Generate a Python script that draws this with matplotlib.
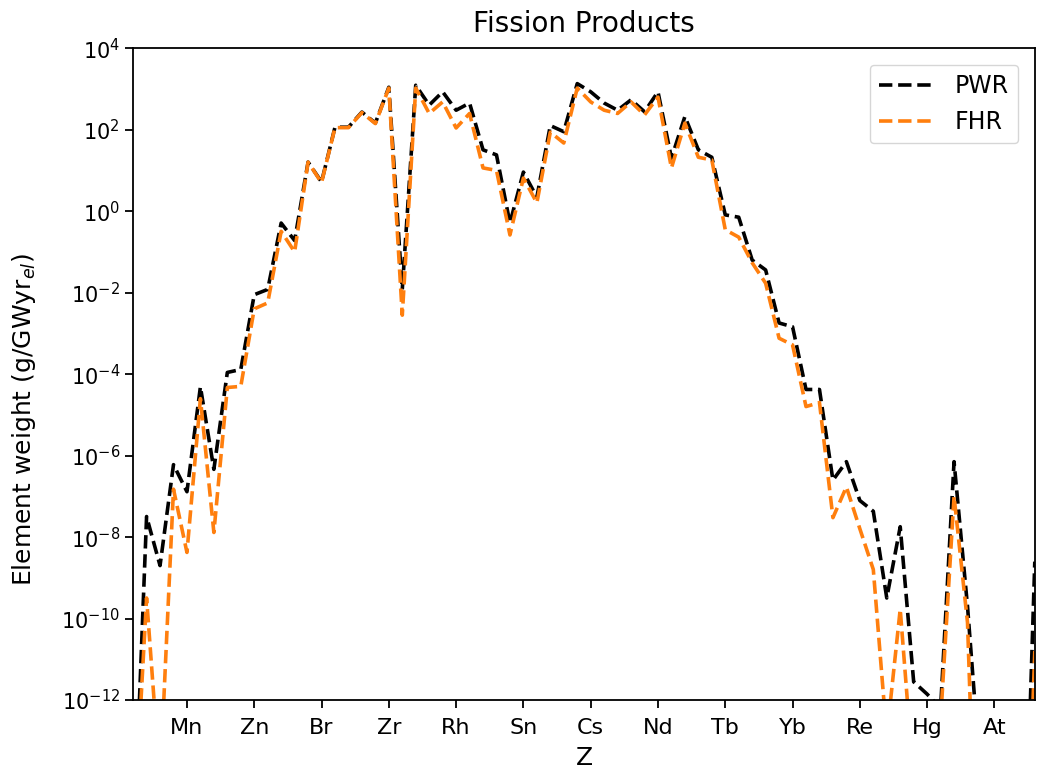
import matplotlib
matplotlib.use("Agg")
import matplotlib.pyplot as plt
from matplotlib.ticker import FixedLocator, NullLocator, LogFormatterMathtext

Z = list(range(21, 89))

pwr = [1e-16, 3.2e-8, 2.0e-9, 6.0e-7, 1.3e-7, 4.9e-5, 4.6e-7, 1.1e-4, 1.3e-4, 8.9e-3,
       1.2e-2, 0.51, 0.19, 16, 5.2, 115, 115, 270, 145, 1100,
       0.012, 1230, 400, 850, 300, 450, 32, 24, 0.51, 9.1,
       2.2, 126, 89, 1350, 850, 450, 300, 540, 275, 850,
       20, 210, 32, 21, 0.81, 0.71, 0.063, 0.036, 1.8e-3, 1.45e-3,
       4.2e-5, 4.2e-5, 2.5e-7, 7.1e-7, 7.9e-8, 4.3e-8, 3.2e-10, 1.8e-8, 2.8e-12, 1.4e-12,
       6.3e-13, 7.1e-7, 2.0e-10, 1e-14, 1e-20, 1e-20, 1e-19, 2.5e-9]

fhr = [3e-16, 3.2e-10, 1e-14, 1.5e-7, 4.2e-9, 2.5e-5, 1.3e-8, 4.7e-5, 5.0e-5, 4.0e-3,
       5.6e-3, 0.32, 0.1, 16, 5.0, 112, 112, 263, 141, 1050,
       2.8e-3, 1050, 250, 480, 110, 250, 11.5, 10, 0.26, 6.5,
       1.6, 87, 47, 1050, 480, 300, 250, 480, 230, 630,
       11.5, 145, 21, 18, 0.35, 0.23, 0.054, 0.017, 7.6e-4, 5.2e-4,
       1.6e-5, 2.0e-5, 3.0e-8, 1.7e-7, 1.6e-8, 1.6e-9, 1.3e-13, 1.7e-10, 1e-14, 1e-20,
       3.2e-13, 1e-7, 8e-11, 1e-20, 1e-20, 1e-20, 1e-20, 1.6e-11]

tick_z = [25, 30, 35, 40, 45, 50, 55, 60, 65, 70, 75, 80, 85]
tick_labels = ["Mn", "Zn", "Br", "Zr", "Rh", "Sn", "Cs", "Nd", "Tb", "Yb", "Re", "Hg", "At"]
y_ticks = [1e-12, 1e-10, 1e-8, 1e-6, 1e-4, 1e-2, 1e0, 1e2, 1e4]

fig = plt.figure(figsize=(10.4, 7.77), dpi=100)
ax = fig.add_axes([0.128, 0.099, 0.867, 0.839])

ax.plot(Z, pwr, linestyle="--", color="black", lw=2.6, label="PWR")
ax.plot(Z, fhr, linestyle="--", color="#ff7f0e", lw=2.6, label="FHR")

ax.set_yscale("log")
ax.set_ylim(1e-12, 1e4)
ax.set_xlim(21, 88)
ax.yaxis.set_major_locator(FixedLocator(y_ticks))
ax.yaxis.set_major_formatter(LogFormatterMathtext())
ax.yaxis.set_minor_locator(NullLocator())
ax.set_xticks(tick_z)
ax.set_xticklabels(tick_labels)
ax.tick_params(axis="x", labelsize=16, length=6, width=1.3, pad=7)
ax.tick_params(axis="y", labelsize=15, length=6, width=1.3)
for s in ax.spines.values():
    s.set_linewidth(1.3)

ax.set_title("Fission Products", fontsize=20, pad=12)
ax.set_xlabel("Z", fontsize=18, labelpad=6)
ax.set_ylabel(r"Element weight (g/GWyr$_{el}$)", fontsize=18)
ax.yaxis.set_label_coords(-0.106, 0.43)
ax.legend(loc="upper right", fontsize=17, handlelength=2.4, borderaxespad=0.7)

fig.savefig("out.png", dpi=100)
